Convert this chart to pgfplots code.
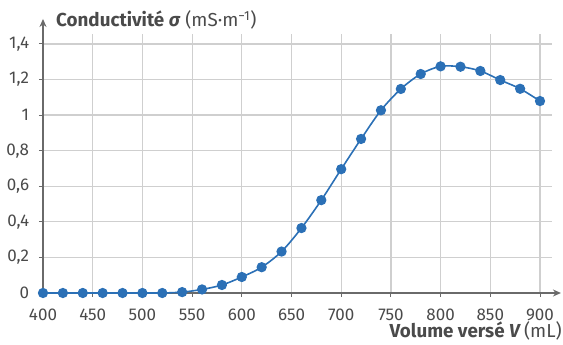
\documentclass[border=0pt]{standalone}
\usepackage{fontspec}
\setmainfont{Fira Sans}
\usepackage{pgfplots}
\pgfplotsset{compat=1.18}
\usetikzlibrary{arrows.meta}
\definecolor{curve}{HTML}{2B70B6}
\definecolor{gridc}{HTML}{CFCFCF}
\definecolor{axc}{HTML}{6A6A6A}
\definecolor{txt}{HTML}{4A4A4A}
\begin{document}
\begin{tikzpicture}
\begin{axis}[
  at={(0pt,0pt)}, anchor=south west, scale only axis,
  x=0.994pt, y=177.9pt,
  xmin=400, xmax=912, ymin=0, ymax=1.456,
  axis lines=left,
  clip=false,
  axis line style={draw=axc, line width=1.3pt, -{Stealth[length=8pt,width=7pt]}},
  x axis line style={shorten >=-9pt},
  y axis line style={shorten >=-15pt},
  xtick={400,450,...,900},
  ytick={0,0.2,...,1.4},
  grid=major,
  major grid style={draw=gridc, line width=1.2pt},
  tick align=outside,
  major tick length=4pt,
  tick style={draw=axc, line width=1pt},
  /pgf/number format/assume math mode=true,
  /pgf/number format/use comma,
  ticklabel style={font=\fontsize{17}{20}\selectfont, text=txt},
  xticklabel style={anchor=base, inner sep=0pt, yshift=-23.7pt},
  yticklabel style={anchor=east, inner sep=0pt, xshift=-9.7pt},
]
\addplot[curve, line width=1.6pt, smooth, mark=*, mark size=4.3pt, mark options={fill=curve, draw=curve}] coordinates {
(400,0) (420,0) (440,0) (460,0) (480,0) (500,0) (520,0) (540,0.005)
(560,0.02) (580,0.045) (600,0.09) (620,0.145) (640,0.233) (660,0.365)
(680,0.522) (700,0.696) (720,0.866) (740,1.027) (760,1.147) (780,1.231)
(800,1.274) (820,1.272) (840,1.248) (860,1.197) (880,1.148) (900,1.079)
};
\end{axis}
\node[anchor=base west, text=txt, font=\fontsize{18.8}{22}\selectfont, inner sep=0pt] at (13pt,266pt) {\textbf{Conductivité \textit{σ}} (mS·m\textsuperscript{−1})};
\node[anchor=base east, text=txt, font=\fontsize{18.8}{22}\selectfont, inner sep=0pt] at (519pt,-45pt) {\textbf{Volume versé \textit{V}}\,(mL)};
\path[use as bounding box] (-43pt,-52pt) rectangle (520pt,293pt);
\end{tikzpicture}
\end{document}
